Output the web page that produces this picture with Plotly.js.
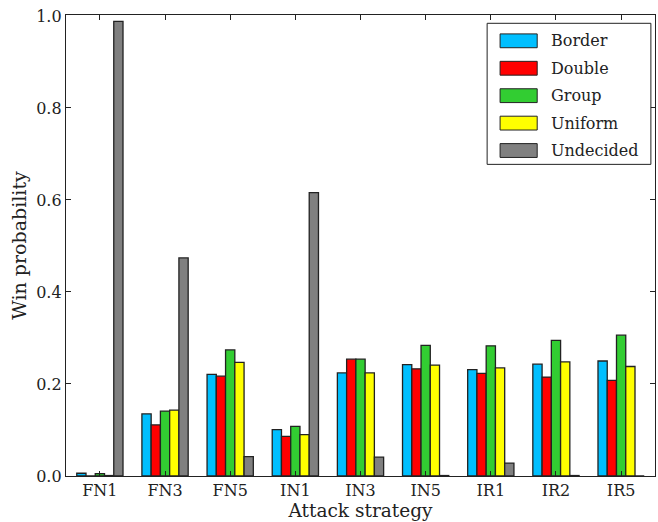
<!DOCTYPE html>
<html>
<head>
<meta charset="utf-8">
<script src="https://cdn.plot.ly/plotly-3.0.1.min.js"></script>
<style>html,body{margin:0;padding:0;background:#fff;}#chart{width:658px;height:522px;}</style>
</head>
<body>
<div id="chart"></div>
<script>
const categories = ["FN1","FN3","FN5","IN1","IN3","IN5","IR1","IR2","IR5"];
const seriesNames = ["Border","Double","Group","Uniform","Undecided"];
const seriesColors = ["#00BFFF","#FF0000","#32CD32","#FFFF00","#808080"];
const border    = [0.006, 0.135, 0.221, 0.101, 0.224, 0.242, 0.231, 0.243, 0.250];
const double_   = [0.000, 0.111, 0.217, 0.086, 0.254, 0.233, 0.223, 0.215, 0.208];
const group     = [0.005, 0.141, 0.274, 0.108, 0.254, 0.284, 0.283, 0.295, 0.306];
const uniform   = [0.001, 0.143, 0.247, 0.090, 0.224, 0.241, 0.235, 0.248, 0.238];
const undecided = [0.988, 0.474, 0.042, 0.616, 0.041, 0.001, 0.028, 0.001, 0.000];
const seriesValues = [border, double_, group, uniform, undecided];
const yTicks = [0, 0.2, 0.4, 0.6, 0.8, 1.0];

const FONT = "DejaVu Serif, Liberation Serif, serif";

const traces = seriesNames.map((name, i) => ({
  type: "bar",
  name: name,
  x: categories,
  y: seriesValues[i],
  marker: {color: seriesColors[i], line: {color: "#222", width: 1.3}},
  showlegend: false
}));

// manual legend
const shapes = [];
const annotations = [];
const lx0 = 0.715, lx1 = 0.993, ly1 = 0.982, ly0 = 0.676;
shapes.push({type: "rect", xref: "paper", yref: "paper", x0: lx0, x1: lx1, y0: ly0, y1: ly1,
  line: {color: "#222", width: 1}, fillcolor: "#fff", layer: "above"});
seriesNames.forEach((name, i) => {
  const yc = 0.944 - i * 0.0595;
  shapes.push({type: "rect", xref: "paper", yref: "paper",
    x0: 0.737, x1: 0.800, y0: yc - 0.015, y1: yc + 0.015,
    fillcolor: seriesColors[i], line: {color: "#222", width: 1}, layer: "above"});
  annotations.push({xref: "paper", yref: "paper", x: 0.820, y: yc, xanchor: "left", yanchor: "middle",
    text: name, showarrow: false, font: {family: FONT, size: 16, color: "#222"}});
});

const layout = {
  width: 658, height: 522,
  margin: {l: 66, r: 3, t: 15, b: 46},
  paper_bgcolor: "#fff", plot_bgcolor: "#fff",
  font: {family: FONT, size: 16, color: "#222"},
  barmode: "group",
  bargap: 0.29, bargroupgap: 0,
  showlegend: false,
  xaxis: {
    type: "category",
    range: [-0.52, 8.52],
    showline: true, linecolor: "#222", linewidth: 1.2, mirror: "allticks",
    ticks: "inside", ticklen: 5, tickcolor: "#222", tickwidth: 1,
    showgrid: false, zeroline: false,
    tickfont: {family: FONT, size: 16, color: "#222"},
    title: {text: "Attack strategy", font: {family: FONT, size: 18.5, color: "#222"}, standoff: 2}
  },
  yaxis: {
    range: [0, 1.002],
    tickvals: yTicks, tickformat: ".1f",
    showline: true, linecolor: "#222", linewidth: 1.2, mirror: "allticks",
    ticks: "inside", ticklen: 5, tickcolor: "#222", tickwidth: 1,
    showgrid: false, zeroline: false,
    tickfont: {family: FONT, size: 16, color: "#222"},
    title: {text: "Win probability", font: {family: FONT, size: 19, color: "#222"}, standoff: 4}
  },
  shapes: shapes,
  annotations: annotations
};

Plotly.newPlot("chart", traces, layout, {displayModeBar: false, staticPlot: true});
</script>
</body>
</html>
